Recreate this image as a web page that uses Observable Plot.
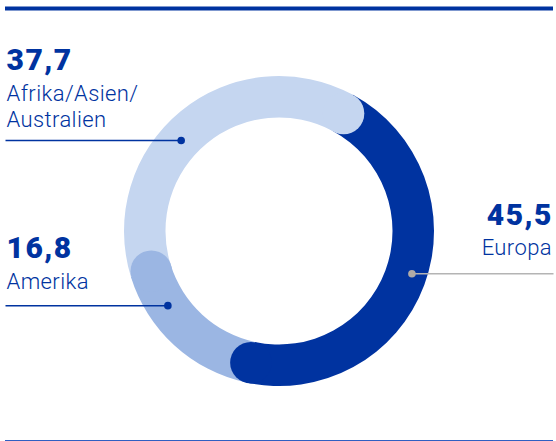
<!DOCTYPE html>
<html>
<head>
<meta charset="utf-8">
<script src="https://cdn.jsdelivr.net/npm/d3@7"></script>
<script src="https://cdn.jsdelivr.net/npm/@observablehq/plot@0.6"></script>
<style>
  html, body { margin: 0; padding: 0; background: #fff; }
  #chart svg { display: block; }
</style>
</head>
<body>
<div id="chart"></div>
<script>
// ---- data ----
const regions = ["Europa", "Amerika", "Afrika/Asien/\nAustralien"];
const shares = [45.5, 16.8, 37.7];
const valueLabels = ["45,5", "16,8", "37,7"];

// ---- styles / layout ----
const colors = ["#0033a0", "#9bb6e3", "#c5d6f0"];
const W = 556, H = 441;
const cx = 279, cy = 231, rOuter = 155, rInner = 113.5;
const rMid = (rOuter + rInner) / 2, band = rOuter - rInner;
const startRad = 28.5 * Math.PI / 180;
const annot = [
  {angle: 107.7, r: 139, side: "right", lead: "#b4b4b4", dot: "#b0aba6", numY: 224.5, labY: 254.5},
  {angle: 236.4, r: 134, side: "left", lead: "#0033a0", dot: "#0033a0", numY: 257, labY: 288},
  {angle: 312.8, r: 134, side: "left", lead: "#0033a0", dot: "#0033a0", numY: 69.5, labY: 126}
];

const data = regions.map((name, i) => ({name, value: shares[i], label: valueLabels[i], color: colors[i], ...annot[i]}));
const arcs = d3.pie().sort(null).value(d => d.value)
  .startAngle(startRad).endAngle(startRad + 2 * Math.PI)(data);

const caps = arcs.map(a => ({
  x: cx + rMid * Math.sin(a.endAngle),
  y: cy - rMid * Math.cos(a.endAngle),
  color: a.data.color
}));
data.forEach(d => {
  const t = d.angle * Math.PI / 180;
  d.px = cx + d.r * Math.sin(t);
  d.py = cy - d.r * Math.cos(t);
  d.edge = d.side === "left" ? 5 : 553;
});
const left = data.filter(d => d.side === "left");
const right = data.filter(d => d.side === "right");

const arcGen = d3.arc().innerRadius(rInner).outerRadius(rOuter);

const ringMark = (index, scales) => {
  const g = d3.create("svg:g")
    .attr("transform", `translate(${scales.x(cx)},${scales.y(cy)})`);
  g.selectAll("path").data(arcs).join("path")
    .attr("d", arcGen)
    .attr("fill", a => a.data.color);
  return g.node();
};

const numStyle = {text: "label", y: "numY", lineAnchor: "bottom", fill: "#0033a0", fontSize: 30, fontWeight: 900};
const labStyle = {text: "name", y: "labY", lineAnchor: "bottom", lineHeight: 1.18, fill: "#0033a0", fontSize: 22, fontWeight: 300};

const plot = Plot.plot({
  width: W, height: H, margin: 0,
  x: {domain: [0, W], range: [0, W], axis: null},
  y: {domain: [0, H], range: [0, H], axis: null},
  style: {fontFamily: "Roboto, sans-serif", background: "#fff"},
  marks: [
    Plot.ruleY([8], {x1: 5, x2: 553, stroke: "#0033a0", strokeWidth: 4}),
    Plot.ruleY([440], {x1: 5, x2: 553, stroke: "#2f5fc2", strokeWidth: 1.2}),
    ringMark,
    Plot.dot(caps, {x: "x", y: "y", r: band / 2, fill: "color", stroke: null}),
    Plot.link(data, {x1: "edge", y1: "py", x2: "px", y2: "py", stroke: "lead", strokeWidth: 1.5}),
    Plot.dot(data, {x: "px", y: "py", r: 3.8, fill: "dot", stroke: null}),
    Plot.text(left, {...numStyle, x: 6, textAnchor: "start"}),
    Plot.text(right, {...numStyle, x: 552.5, textAnchor: "end"}),
    Plot.text(left, {...labStyle, x: 6, textAnchor: "start"}),
    Plot.text(right, {...labStyle, x: 551.5, textAnchor: "end"})
  ]
});
const textGroups = d3.select(plot).selectAll("g[aria-label=text]");
textGroups.filter((d, i) => i < 2).attr("letter-spacing", "1.5px");
textGroups.filter((d, i) => i >= 2).attr("letter-spacing", "0.4px");
document.getElementById("chart").appendChild(plot);
</script>
</body>
</html>
